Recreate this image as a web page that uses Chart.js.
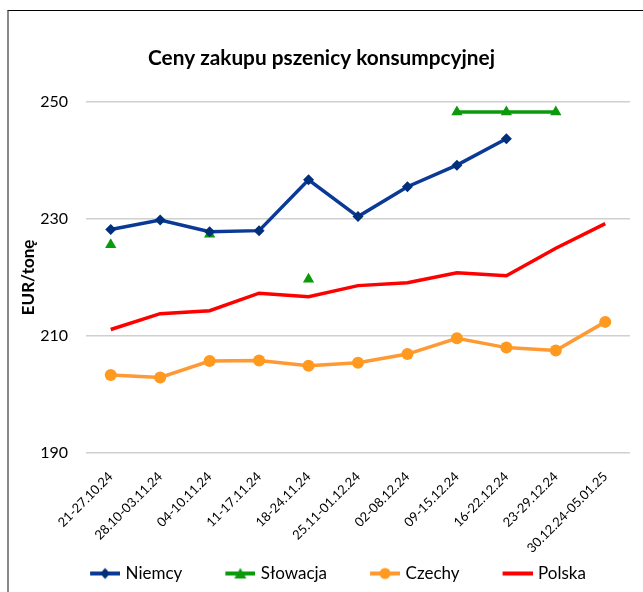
<!DOCTYPE html>
<html>
<head>
<meta charset="utf-8">
<script src="https://cdn.jsdelivr.net/npm/chart.js@4"></script>
<style>
  html, body { margin: 0; padding: 0; background: #fff; }
  #wrap { position: relative; width: 643px; height: 592px; }
  #frame { position: absolute; left: 7px; top: 10px; right: 0; bottom: 0;
           border-left: 2px solid #8a8a8a; border-top: 1px solid #000; }
  #box { position: absolute; left: 0; top: 0; width: 643px; height: 592px; }
</style>
</head>
<body>
<div id="wrap">
  <div id="frame"></div>
  <div id="box"><canvas id="priceChart"></canvas></div>
</div>
<script>
// data
const weeks = ['21-27.10.24', '28.10-03.11.24', '04-10.11.24', '11-17.11.24', '18-24.11.24',
  '25.11-01.12.24', '02-08.12.24', '09-15.12.24', '16-22.12.24', '23-29.12.24', '30.12.24-05.01.25'];
const niemcy = [228.2, 229.8, 227.8, 228.0, 236.7, 230.4, 235.5, 239.2, 243.7, null, null];
const slowacja = [225.6, null, 227.4, null, 219.7, null, null, 248.3, 248.3, 248.3, null];
const czechy = [203.3, 202.9, 205.7, 205.8, 204.9, 205.4, 206.9, 209.6, 208.0, 207.5, 212.4];
const polska = [211.1, 213.8, 214.3, 217.3, 216.7, 218.6, 219.1, 220.8, 220.3, 225.0, 229.2];
const yTicks = [190, 210, 230, 250];

const FONT = 'Lato, "Open Sans", sans-serif';

// legend icon: short line with the marker in the middle, drawn at the right end of a wider canvas
const legendIcon = (color, marker, markerColor) => {
  const c = document.createElement('canvas');
  c.width = 66; c.height = 14;
  const g = c.getContext('2d');
  const x0 = 36, x1 = 66, mid = 51;
  g.strokeStyle = color;
  g.lineWidth = 4;
  g.beginPath(); g.moveTo(x0, 7); g.lineTo(x1, 7); g.stroke();
  g.fillStyle = markerColor;
  g.beginPath();
  if (marker === 'diamond') {
    g.moveTo(mid, 1.5); g.lineTo(mid + 5, 7); g.lineTo(mid, 12.5); g.lineTo(mid - 5, 7);
  } else if (marker === 'triangle') {
    g.moveTo(mid, 1.5); g.lineTo(mid + 6, 12); g.lineTo(mid - 6, 12);
  } else if (marker === 'circle') {
    g.arc(mid, 7, 5.5, 0, Math.PI * 2);
  }
  g.closePath();
  if (marker) g.fill();
  return c;
};

const ctx = document.getElementById('priceChart').getContext('2d');
new Chart(ctx, {
  type: 'line',
  data: {
    labels: weeks,
    datasets: [
      {
        label: 'Niemcy',
        data: niemcy,
        borderColor: '#0a3a96',
        backgroundColor: '#002f7c',
        borderWidth: 3.5,
        pointStyle: 'rectRot',
        pointRadius: 5.5,
        pointBorderWidth: 0,
        pointBackgroundColor: '#002f7c',
        legendIcon: legendIcon('#0a3a96', 'diamond', '#002f7c'),
      },
      {
        label: 'Słowacja',
        data: slowacja,
        borderColor: '#0b9a0b',
        backgroundColor: '#0b9a0b',
        borderWidth: 3.5,
        pointStyle: 'triangle',
        pointRadius: 6.5,
        pointBorderWidth: 0,
        pointBackgroundColor: '#0b9a0b',
        legendIcon: legendIcon('#0b9a0b', 'triangle', '#0b9a0b'),
      },
      {
        label: 'Czechy',
        data: czechy,
        borderColor: '#ff9933',
        backgroundColor: '#ff9a1f',
        borderWidth: 3.5,
        pointStyle: 'circle',
        pointRadius: 6,
        pointBorderWidth: 0,
        pointBackgroundColor: '#ff9a1f',
        legendIcon: legendIcon('#ff9933', 'circle', '#ff9a1f'),
      },
      {
        label: 'Polska',
        data: polska,
        borderColor: '#ff0000',
        backgroundColor: '#ff0000',
        borderWidth: 3.5,
        pointRadius: 0,
        legendIcon: legendIcon('#ff0000', null, '#ff0000'),
      },
    ],
  },
  options: {
    responsive: true,
    maintainAspectRatio: false,
    animation: false,
    spanGaps: false,
    layout: { padding: { left: 13, right: 13, top: 20, bottom: 0 } },
    plugins: {
      tooltip: { enabled: false },
      title: {
        display: true,
        text: 'Ceny zakupu pszenicy konsumpcyjnej',
        color: '#000',
        font: { family: FONT, size: 20.8, weight: 'bold' },
        padding: { top: 26, bottom: 31 },
      },
      legend: {
        display: true,
        position: 'bottom',
        labels: {
          usePointStyle: true,
          pointStyleWidth: 60,
          color: '#000',
          font: { family: FONT, size: 17 },
          padding: 10,
          generateLabels: (chart) => chart.data.datasets.map((ds, i) => ({
            text: ds.label,
            pointStyle: ds.legendIcon,
            fontColor: '#000',
            lineWidth: 0,
            strokeStyle: 'transparent',
            fillStyle: 'transparent',
            datasetIndex: i,
            hidden: false,
          })),
        },
      },
    },
    scales: {
      x: {
        offset: true,
        grid: { display: false },
        border: { display: false },
        // chart.js reserves the tick padding twice; take part of it back
        afterFit: (axis) => { axis.height -= 9; },
        ticks: {
          color: '#000',
          font: { family: FONT, size: 13 },
          minRotation: 45,
          maxRotation: 45,
          autoSkip: false,
          padding: 8,
        },
      },
      y: {
        min: yTicks[0],
        max: yTicks[yTicks.length - 1],
        afterBuildTicks: (axis) => { axis.ticks = yTicks.map(v => ({ value: v })); },
        afterFit: (axis) => { axis.width = 73; },
        grid: { color: '#d0d0d0', lineWidth: 1.5, drawTicks: false },
        border: { display: false },
        ticks: {
          color: '#000',
          font: { family: FONT, size: 16 },
          padding: 18,
        },
        title: {
          display: true,
          text: 'EUR/tonę',
          color: '#000',
          font: { family: FONT, size: 17, weight: 'bold' },
          padding: { top: 5, bottom: 2 },
        },
      },
    },
  },
});
</script>
</body>
</html>
